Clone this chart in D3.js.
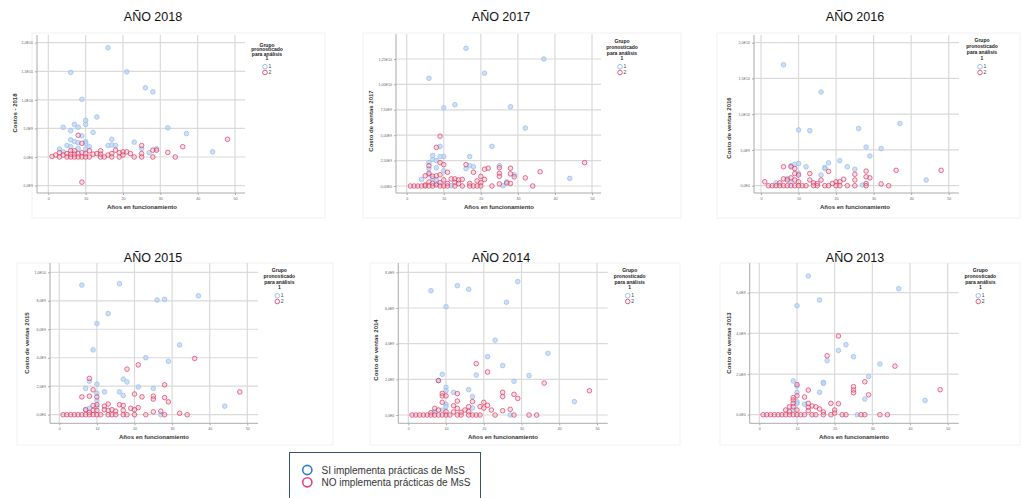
<!DOCTYPE html>
<html>
<head>
<meta charset="utf-8">
<script src="https://cdn.jsdelivr.net/npm/d3@7"></script>
<style>
  body { margin: 0; background: #fff; }
  svg { display: block; font-family: "Liberation Sans", Arial, sans-serif; }
</style>
</head>
<body>
<div id="chart"></div>
<script>
// Data: [años en funcionamiento, costo (miles de millones)]
const xTicks = [0, 10, 20, 30, 40, 50];

const blue2018 = [[16,19.1],[6,14.8],[21,14.9],[26,12.1],[28,11.4],[9,10.1],[13,7.0],[10,6.4],[10,5.7],[7,5.7],[4,5.2],[8,5.2],[32,5.1],[12,4.3],[37,4.1],[6,4.6],[9,3.7],[17,3.1],[6,3.0],[7,2.7],[10,2.7],[8,2.5],[10,2.4],[23,2.6],[16,2.0],[17,2.1],[18,2.0],[5,2.0],[6,1.8],[11,1.8],[3,1.4],[8,1.5],[10,1.4],[25,1.45],[29,1.45],[27,0.75],[44,0.9],[4,0.9]];
const red2018 = [[48,3.1],[8,3.8],[9,2.4],[36,1.8],[25,2.0],[32,0.8],[28,1.2],[29,1.2],[9,-4.4],[34,0],[23,0],[28,0],[1,0.1],[2,0.35],[3,0.75],[3,0],[4,0.35],[5,0.6],[5,0],[6,1.1],[6,0.5],[6,0],[7,1.1],[7,0.5],[7,0],[8,0.6],[8,0],[9,0.75],[9,0],[10,0.6],[10,0],[11,1.1],[11,0],[12,0.5],[13,0.6],[14,1.1],[14,0.5],[14,0],[15,0],[16,0.35],[17,0.6],[17,0],[18,1.2],[19,0.75],[19,0],[20,0.9],[20,0.35],[21,0.9],[22,0.6],[25,0.6],[25,0]];
const yTicks2018 = [-5, 0, 5, 10, 15, 20];
const yLabels2018 = ["-5,0E9", "0,0E0", "5,0E9", "1,0E10", "1,5E10", "2,0E10"];

const blue2017 = [[16,13.55],[37,12.5],[21,11.1],[6,10.6],[13,8.0],[10,7.7],[28,7.8],[32,5.7],[23,3.9],[9,3.9],[7,3.0],[10,2.9],[9,2.9],[17,2.9],[7,2.6],[6,2.3],[8,2.5],[17,2.0],[18,1.9],[25,2.0],[16,1.7],[8,1.8],[6,1.7],[44,0.75],[27,0.4],[29,1.1],[4,0.65],[7,0.75],[8,0.6],[10,1.5],[12,0.03],[26,0.03],[6,1.1],[8,0.25]];
const red2017 = [[9,4.9],[8,3.8],[9,2.3],[48,2.3],[16,2.1],[10,2.1],[6,2.0],[25,1.8],[28,1.75],[22,1.75],[21,1.65],[18,1.35],[36,1.4],[11,1.35],[25,1.25],[28,1.2],[29,0.9],[32,0.8],[20,0.95],[25,0.95],[21,0.65],[19,0.5],[6,1.25],[5,1.0],[8,1.0],[9,1.1],[12,0.7],[13,0.7],[14,0.6],[15,0.65],[13,0.35],[14,0.25],[10,0.6],[7,0.95],[6,0.4],[5,0.1],[7,0.25],[8,0.1],[9,0.33],[11,0.25],[17,0.25],[20,0.33],[25,0.2],[28,0.25],[27,0.3],[1,0],[2,0],[3,0],[4,0],[5,0],[6,0],[7,0],[9,0],[10,0],[11,0],[13,0],[15,0],[17,0],[18,0],[19,0],[20,0],[23,0],[34,0]];
const yTicks2017 = [0, 2.5, 5, 7.5, 10, 12.5];
const yLabels2017 = ["0,00E0", "2,50E9", "5,00E9", "7,50E9", "1,00E10", "1,25E10"];

const blue2016 = [[6,16.9],[16,13.1],[37,8.7],[26,8.0],[10,7.8],[13,7.7],[28,5.4],[32,5.2],[29,4.15],[21,3.5],[18,3.2],[23,2.65],[10,3.1],[9,3.0],[8,2.8],[12,2.65],[17,2.55],[17,2.4],[25,2.3],[16,1.5],[7,1.0],[8,0.55],[44,0.8],[4,0.4],[27,0.1],[10,1.7]];
const red2016 = [[6,2.65],[48,2.15],[36,2.15],[18,2.0],[28,2.05],[8,2.65],[9,2.4],[9,1.7],[10,1.5],[13,1.7],[25,1.6],[29,1.1],[28,1.25],[22,0.9],[1,0.55],[20,0.55],[21,0.55],[25,0.8],[6,0.95],[7,0.8],[8,1.1],[9,0.8],[13,0.8],[16,0.8],[10,0.55],[14,0.4],[15,0.3],[19,0.3],[32,0.25],[28,0.3],[5,0.4],[2,0],[3,0],[4,0],[5,0],[6,0],[7,0],[8,0],[9,0],[10,0],[11,0],[12,0],[14,0],[15,0],[17,0],[18,0],[20,0],[21,0],[23,0],[25,0],[28,0],[34,0]];
const yTicks2016 = [0, 5, 10, 15, 20];
const yLabels2016 = ["0,0E0", "5,0E9", "1,0E10", "1,5E10", "2,0E10"];

const blue2015 = [[6,9.1],[16,9.2],[37,8.35],[28,8.1],[26,8.05],[13,7.1],[10,6.4],[32,4.9],[9,4.55],[23,4.0],[29,3.75],[17,2.5],[18,2.3],[8,2.35],[10,2.15],[21,1.95],[25,1.85],[7,1.85],[12,1.6],[16,1.6],[10,1.5],[17,1.35],[10,1.0],[44,0.6],[27,0],[7,0.35],[8,0.45],[10,0.55]];
const red2015 = [[36,3.95],[21,3.5],[18,3.2],[8,2.55],[28,2.1],[48,1.6],[9,1.75],[20,1.45],[6,1.25],[8,1.3],[10,1.25],[22,1.25],[25,1.3],[25,1.1],[28,1.2],[29,0.9],[13,0.75],[16,0.7],[17,0.65],[12,0.6],[10,0.7],[9,0.65],[21,0.5],[19,0.45],[12,0.35],[20,0.35],[14,0.35],[15,0.25],[13,0.3],[17,0.3],[25,0.2],[27,0.25],[32,0.1],[7,0.35],[9,0.3],[8,0.15],[10,0.3],[1,0],[2,0],[3,0],[4,0],[5,0],[6,0],[7,0],[8,0],[9,0],[10,0],[11,0],[13,0],[14,0],[15,0],[17,0],[18,0],[20,0],[23,0],[28,0],[34,0]];
const yTicks2015 = [0, 2, 4, 6, 8, 10];
const yLabels2015 = ["0,0E0", "2,0E9", "4,0E9", "6,0E9", "8,0E9", "1,0E10"];

const blue2014 = [[29,7.48],[13,7.25],[16,7.05],[6,6.97],[26,6.32],[10,6.07],[23,4.19],[37,3.46],[21,3.27],[25,2.77],[9,2.28],[18,2.24],[32,2.21],[28,1.89],[10,1.55],[10,1.36],[16,1.42],[17,1.03],[12,1.27],[44,0.75],[10,0.6],[10,0.47],[17,0.39],[27,0],[7,0.19],[9,0.28],[8,1.93]];
const red2014 = [[18,2.88],[21,2.41],[36,1.79],[48,1.36],[8,1.93],[13,1.2],[25,1.27],[25,1.03],[28,1.16],[29,0.93],[9,1.21],[9,1.07],[10,1.07],[9,0.71],[17,0.75],[13,0.78],[20,0.71],[21,0.54],[12,0.52],[19,0.47],[20,0.39],[16,0.47],[22,0.28],[27,0.32],[25,0.24],[7,0.37],[8,0.28],[15,0.28],[16,0.19],[14,0.15],[12,0.17],[13,0.37],[6,0.13],[10,0.19],[1,0],[2,0],[3,0],[4,0],[5,0],[6,0],[7,0],[8,0],[9,0],[10,0],[11,0],[13,0],[14,0],[16,0],[17,0],[18,0],[19,0],[23,0],[28,0],[32,0],[34,0]];
const yTicks2014 = [0, 2, 4, 6, 8];
const yLabels2014 = ["0,0E0", "2,0E9", "4,0E9", "6,0E9", "8,0E9"];

const blue2013 = [[13,6.82],[37,6.2],[16,5.64],[10,5.36],[23,3.44],[21,3.16],[25,2.85],[18,2.66],[32,2.49],[29,1.88],[9,1.66],[17,1.59],[17,1.54],[10,1.1],[16,1.1],[28,0.77],[44,0.7],[10,0.64],[10,0.56],[12,0.52],[10,1.41],[26,0],[9,0.23]];
const red2013 = [[21,3.87],[18,2.9],[36,2.39],[28,1.62],[10,1.48],[25,1.38],[25,1.21],[25,1.08],[48,1.23],[13,1.21],[29,0.98],[10,0.93],[9,0.84],[9,0.72],[12,0.87],[9,0.56],[19,0.56],[21,0.54],[8,0.39],[14,0.43],[15,0.39],[16,0.28],[17,0.13],[20,0.23],[20,0.08],[13,0.56],[13,0.36],[13,0.2],[9,0.39],[10,0.23],[7,0.23],[8,0.15],[1,0],[2,0],[3,0],[4,0],[5,0],[6,0],[7,0],[8,0],[9,0],[10,0],[11,0],[12,0],[14,0],[15,0],[17,0],[19,0],[22,0],[23,0],[27,0],[28,0],[32,0],[34,0]];
const yTicks2013 = [0, 2, 4, 6];
const yLabels2013 = ["0,0E0", "2,0E9", "4,0E9", "6,0E9"];

const legendTitle = ["Grupo", "pronosticado", "para análisis", "1"];
const legendGroups = ["1", "2"];
const bottomLegend = ["SI implementa prácticas de MsS", "NO implementa prácticas de MsS"];

// Panel layout (pixels)
const panels = [
  { year: 2018, yTitle: "Costos - 2018", blue: blue2018, red: red2018, yTicks: yTicks2018, yLabels: yLabels2018,
    frame: [32, 33, 293, 185], title: [153, 17], x0: 48.3, x50: 235, left: 37, right: 245, top: 35, bottom: 193,
    y0px: 157, yTopPx: 42.7, yTop: 20, xTitleX: 142, yTitleX: 15, yTitleY: 113, leg: [267, 45, 66.7] },
  { year: 2017, yTitle: "Costo de ventas 2017", blue: blue2017, red: red2017, yTicks: yTicks2017, yLabels: yLabels2017,
    frame: [363, 33, 318, 185], title: [501, 17], x0: 406.7, x50: 592, left: 396, right: 601, top: 34, bottom: 193,
    y0px: 186, yTopPx: 59, yTop: 12.5, xTitleX: 499, yTitleX: 371, yTitleY: 121, leg: [622, 41, 66.7] },
  { year: 2016, yTitle: "Costo de ventas 2016", blue: blue2016, red: red2016, yTicks: yTicks2016, yLabels: yLabels2016,
    frame: [717, 33, 303, 185], title: [855, 17], x0: 761, x50: 948.7, left: 754, right: 959, top: 35, bottom: 193,
    y0px: 185.7, yTopPx: 42.7, yTop: 20, xTitleX: 855, yTitleX: 729, yTitleY: 128, leg: [982, 40, 66.7] },
  { year: 2015, yTitle: "Costo de ventas 2015", blue: blue2015, red: red2015, yTicks: yTicks2015, yLabels: yLabels2015,
    frame: [17, 263, 316, 182], title: [153, 258], x0: 59.3, x50: 247.3, left: 50, right: 258, top: 263, bottom: 423.3,
    y0px: 414.7, yTopPx: 272.3, yTop: 10, xTitleX: 154, yTitleX: 26.7, yTitleY: 343, leg: [279.3, 270, 295.7] },
  { year: 2014, yTitle: "Costo de ventas 2014", blue: blue2014, red: red2014, yTicks: yTicks2014, yLabels: yLabels2014,
    frame: [370, 263, 310, 182], title: [501, 258], x0: 408.3, x50: 597, left: 398.3, right: 607.7, top: 263, bottom: 423.3,
    y0px: 415, yTopPx: 272.3, yTop: 8, xTitleX: 503, yTitleX: 376, yTitleY: 350, leg: [629.7, 270, 295.7] },
  { year: 2013, yTitle: "Costo de ventas 2013", blue: blue2013, red: red2013, yTicks: yTicks2013, yLabels: yLabels2013,
    frame: [720, 263, 300, 182], title: [855, 258], x0: 759.3, x50: 947.7, left: 749.7, right: 958.7, top: 263, bottom: 423.3,
    y0px: 414.7, yTopPx: 292.7, yTop: 6, xTitleX: 854, yTitleX: 728.7, yTitleY: 343, leg: [980.3, 270, 295.7] }
];

const svg = d3.select("#chart").append("svg")
  .attr("width", 1023)
  .attr("height", 498);

svg.append("rect").attr("width", 1023).attr("height", 498).attr("fill", "#fff");

panels.forEach(p => {
  const g = svg.append("g");

  // faint frame around each chart
  g.append("rect")
    .attr("x", p.frame[0]).attr("y", p.frame[1])
    .attr("width", p.frame[2]).attr("height", p.frame[3])
    .attr("fill", "none").attr("stroke", "#f1f1f1");

  // title
  g.append("text")
    .attr("x", p.title[0]).attr("y", p.title[1])
    .attr("dy", "0.35em")
    .attr("text-anchor", "middle")
    .attr("font-size", 12.5)
    .attr("fill", "#111")
    .text("AÑO " + p.year);

  const x = d3.scaleLinear().domain([0, 50]).range([p.x0, p.x50]);
  const y = d3.scaleLinear().domain([0, p.yTop]).range([p.y0px, p.yTopPx]);

  // grid
  g.selectAll(".hgrid").data(p.yTicks).enter().append("line")
    .attr("x1", p.left).attr("x2", p.right)
    .attr("y1", d => y(d)).attr("y2", d => y(d))
    .attr("stroke", "#dadada").attr("stroke-width", 1.2);
  g.selectAll(".vgrid").data(xTicks).enter().append("line")
    .attr("x1", d => x(d)).attr("x2", d => x(d))
    .attr("y1", p.top).attr("y2", p.bottom)
    .attr("stroke", "#dadada").attr("stroke-width", 1.2);

  // axes
  const xAxis = g.append("g")
    .attr("transform", `translate(0,${p.bottom})`)
    .call(d3.axisBottom(x).tickValues(xTicks).tickSize(2).tickPadding(2));
  xAxis.select(".domain").attr("d", `M${p.left},0H${p.right}`).attr("stroke", "#aaa");
  xAxis.selectAll(".tick line").attr("stroke", "#aaa");
  xAxis.selectAll("text").attr("font-size", 3.6).attr("fill", "#666");

  const yAxis = g.append("g")
    .attr("transform", `translate(${p.left},0)`)
    .call(d3.axisLeft(y).tickValues(p.yTicks).tickSize(2).tickPadding(2)
      .tickFormat((d, i) => p.yLabels[i]));
  yAxis.select(".domain").attr("d", `M0,${p.top}V${p.bottom}`).attr("stroke", "#aaa");
  yAxis.selectAll(".tick line").attr("stroke", "#aaa");
  yAxis.selectAll("text").attr("font-size", 3.6).attr("fill", "#666");

  // axis titles
  g.append("text")
    .attr("x", p.xTitleX).attr("y", p.bottom + 16)
    .attr("text-anchor", "middle")
    .attr("font-size", 6).attr("font-weight", "bold").attr("fill", "#333")
    .text("Años en funcionamiento");
  g.append("text")
    .attr("transform", `translate(${p.yTitleX},${p.yTitleY}) rotate(-90)`)
    .attr("text-anchor", "middle")
    .attr("dy", "0.35em")
    .attr("font-size", 6).attr("font-weight", "bold").attr("fill", "#333")
    .text(p.yTitle);

  // points
  g.selectAll(".pb").data(p.blue).enter().append("circle")
    .attr("cx", d => x(d[0])).attr("cy", d => y(d[1]))
    .attr("r", 2.3)
    .attr("fill", "#b9d3f5").attr("fill-opacity", 0.7)
    .attr("stroke", "#9dc0ee").attr("stroke-width", 0.8);
  g.selectAll(".pr").data(p.red).enter().append("circle")
    .attr("cx", d => x(d[0])).attr("cy", d => y(d[1]))
    .attr("r", 2.3)
    .attr("fill", "#f2a5b7").attr("fill-opacity", 0.35)
    .attr("stroke", "#d9345f").attr("stroke-width", 0.8).attr("stroke-opacity", 0.85);

  // legend
  const lg = g.append("g");
  const step = (p.leg[2] - 8 - p.leg[1]) / 3;
  lg.selectAll("text.lt").data(legendTitle).enter().append("text")
    .attr("x", p.leg[0]).attr("y", (d, i) => p.leg[1] + i * step)
    .attr("dy", "0.35em")
    .attr("text-anchor", "middle")
    .attr("font-size", 5).attr("font-weight", "bold").attr("fill", "#222")
    .text(d => d);
  lg.selectAll("circle").data(legendGroups).enter().append("circle")
    .attr("cx", p.leg[0] - 2).attr("cy", (d, i) => p.leg[2] + i * 5.8)
    .attr("r", 2.3)
    .attr("fill", "none")
    .attr("stroke", (d, i) => i === 0 ? "#7fb0ec" : "#d9345f").attr("stroke-width", 0.8);
  lg.selectAll("text.li").data(legendGroups).enter().append("text")
    .attr("x", p.leg[0] + 1.5).attr("y", (d, i) => p.leg[2] + i * 5.8)
    .attr("dy", "0.35em")
    .attr("font-size", 5).attr("fill", "#444")
    .text(d => d);
});

// bottom legend box
const bl = svg.append("g");
bl.append("rect")
  .attr("x", 289.5).attr("y", 452.5)
  .attr("width", 191).attr("height", 60)
  .attr("fill", "#fff").attr("stroke", "#3c5070").attr("stroke-width", 1);
bl.selectAll("circle").data(bottomLegend).enter().append("circle")
  .attr("cx", 307.3).attr("cy", (d, i) => 470 + i * 12.3)
  .attr("r", 4.6)
  .attr("fill", "none")
  .attr("stroke", (d, i) => i === 0 ? "#2e7fd0" : "#ea3f86")
  .attr("stroke-width", 1.6);
bl.selectAll("text").data(bottomLegend).enter().append("text")
  .attr("x", 321.5).attr("y", (d, i) => 470 + i * 12.3)
  .attr("dy", "0.35em")
  .attr("font-size", 10).attr("fill", "#333")
  .text(d => d);
</script>
</body>
</html>
